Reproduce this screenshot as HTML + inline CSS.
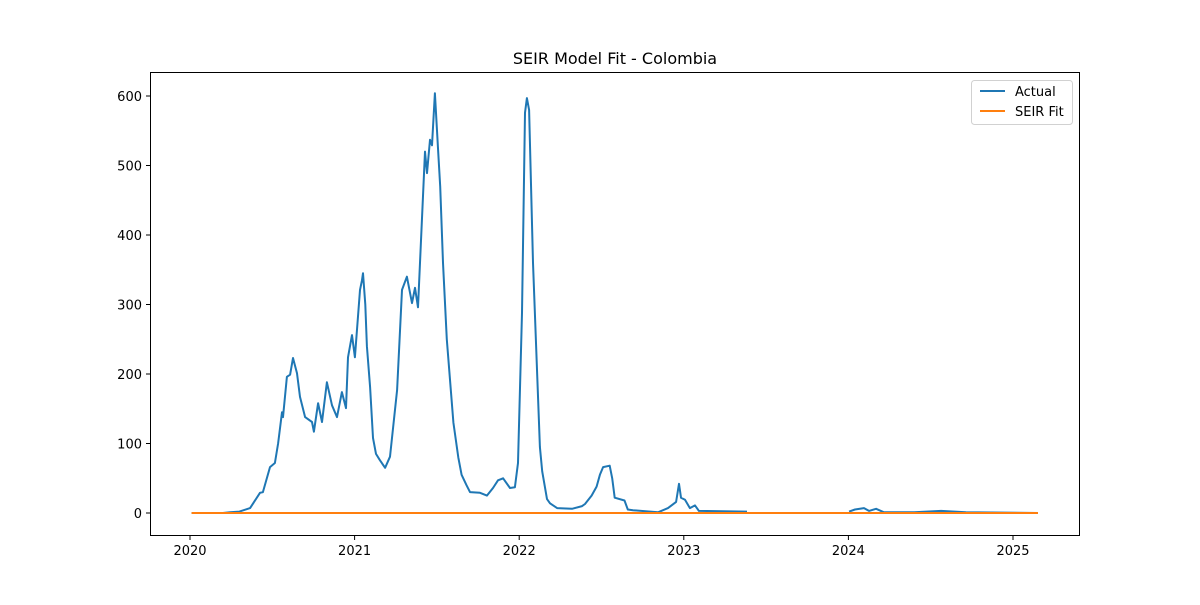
<!DOCTYPE html>
<html><head><meta charset="utf-8"><style>
body{margin:0;background:#fff}
svg text{font-family:"DejaVu Sans","Liberation Sans",sans-serif;fill:#000}
</style></head><body>
<svg id="chart" width="1200" height="600" xmlns="http://www.w3.org/2000/svg">
<rect width="1200" height="600" fill="#fff"/>
<text x="615" y="64" font-size="16" text-anchor="middle">SEIR Model Fit - Colombia</text>
<g id="grid"></g>
<g id="series"></g>
<rect x="150.5" y="72.5" width="929" height="463" fill="none" stroke="#000" stroke-width="1"/>
<g>
<rect x="971.5" y="80.5" width="101" height="44" rx="3" fill="#fff" stroke="#ccc" stroke-opacity="0.9"/>
<line x1="980" y1="91" x2="1005" y2="91" stroke="#1f77b4" stroke-width="2"/>
<text x="1015" y="96" font-size="13">Actual</text>
<line x1="980" y1="111" x2="1005" y2="111" stroke="#ff7f0e" stroke-width="2"/>
<text x="1015" y="116" font-size="13">SEIR Fit</text>
</g>
</svg>
<script>
const actualYears=[2020.01,2020.2,2020.243,2020.3,2020.365,2020.425,2020.443,2020.486,2020.516,2020.535,2020.559,2020.565,2020.589,2020.608,2020.626,2020.650,2020.668,2020.699,2020.741,2020.753,2020.778,2020.802,2020.832,2020.863,2020.893,2020.923,2020.948,2020.960,2020.984,2021.002,2021.033,2021.045,2021.051,2021.065,2021.075,2021.094,2021.112,2021.13,2021.154,2021.185,2021.215,2021.258,2021.288,2021.318,2021.349,2021.367,2021.385,2021.409,2021.428,2021.440,2021.458,2021.470,2021.488,2021.507,2021.52,2021.537,2021.56,2021.58,2021.60,2021.63,2021.65,2021.68,2021.701,2021.762,2021.804,2021.841,2021.871,2021.902,2021.944,2021.974,2021.993,2022.017,2022.035,2022.047,2022.060,2022.084,2022.126,2022.14,2022.169,2022.187,2022.230,2022.321,2022.382,2022.40,2022.44,2022.47,2022.49,2022.51,2022.55,2022.565,2022.58,2022.64,2022.66,2022.691,2022.843,2022.904,2022.953,2022.971,2022.983,2023.007,2023.037,2023.068,2023.092,2023.384,2023.5,2024.004,2024.040,2024.095,2024.125,2024.168,2024.216,2024.400,2024.563,2024.714,2025.152];
const actualValues=[0,0,1,2,7,29,30,66,72,100,145,138,196,199,223,201,167,138,131,117,158,131,188,155,138,174,151,224,256,224,321,335,345,300,240,181,108,85,76,65,81,177,321,340,302,324,296,421,520,489,537,529,604,522,470,360,250,190,130,80,55,40,30,29,25,36,47,50,36,37,72,288,576,597,580,360,95,60,20,14,7,6,10,13,25,38,55,66,68,50,22,18,5,4,1,7,16,42,22,19,7,11,3,2,null,2,5,7,3,6,1,1,3,1,0];
const fitYears=[2020.01,2025.152];
const fitValues=[0,0];
const yTicks=[0,100,200,300,400,500,600];
const xTicks=[2020,2021,2022,2023,2024,2025];

const X=y=>190+(y-2020)*164.6;
const Y=v=>513-v*0.695;
const NS='http://www.w3.org/2000/svg';
const grid=document.getElementById('grid'), ser=document.getElementById('series');
function mk(tag,attrs,parent){const e=document.createElementNS(NS,tag);for(const k in attrs)e.setAttribute(k,attrs[k]);parent.appendChild(e);return e;}
yTicks.forEach(v=>{
  const l=mk('line',{x1:146,x2:150,y1:Y(v),y2:Y(v),stroke:'#000'},grid);
  
  
  const t=mk('text',{x:142,y:Y(v)+5,'font-size':13,'text-anchor':'end'},grid);
  t.textContent=v;
  
  
});
xTicks.forEach(v=>{
  const l=mk('line',{x1:X(v),x2:X(v),y1:536,y2:540,stroke:'#000'},grid);
  
  
  const t=mk('text',{x:X(v),y:555,'font-size':13,'text-anchor':'middle'},grid);
  t.textContent=v;
  
  
});
function path(xs,vs){let d='',pen=false;xs.forEach((x,i)=>{const v=vs[i];if(v===null){pen=false;return;}d+=(pen?'L':'M')+X(x).toFixed(1)+','+Y(v).toFixed(1);pen=true;});return d;}
const a=mk('path',{d:path(actualYears,actualValues),fill:'none',stroke:'#1f77b4','stroke-width':2,'stroke-linejoin':'round'},ser);


const f=mk('path',{d:path(fitYears,fitValues),fill:'none',stroke:'#ff7f0e','stroke-width':2},ser);


</script>
</body></html>
